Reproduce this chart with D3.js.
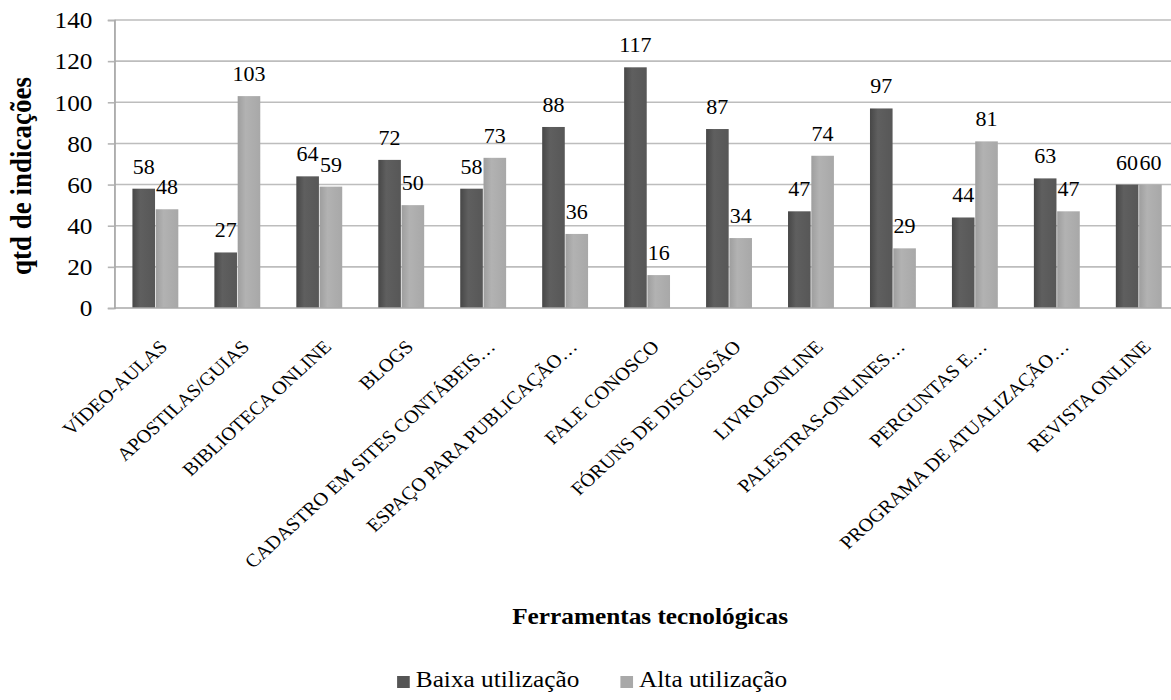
<!DOCTYPE html>
<html>
<head>
<meta charset="utf-8">
<script src="https://cdn.jsdelivr.net/npm/d3@7"></script>
<style>
  html, body { margin: 0; padding: 0; background: #fff; }
  svg { display: block; }
  text { font-family: "Liberation Serif", "Times New Roman", serif; fill: #000; }
</style>
</head>
<body>
<svg id="chart"></svg>
<script>
// Categories (x axis) and the two series of counts
const categories = [
  "VÍDEO-AULAS",
  "APOSTILAS/GUIAS",
  "BIBLIOTECA ONLINE",
  "BLOGS",
  "CADASTRO EM SITES CONTÁBEIS…",
  "ESPAÇO PARA PUBLICAÇÃO…",
  "FALE CONOSCO",
  "FÓRUNS DE DISCUSSÃO",
  "LIVRO-ONLINE",
  "PALESTRAS-ONLINES…",
  "PERGUNTAS E…",
  "PROGRAMA DE ATUALIZAÇÃO…",
  "REVISTA ONLINE"
];
const seriesNames = ["Baixa utilização", "Alta utilização"];
const baixa = [58, 27, 64, 72, 58, 88, 117, 87, 47, 97, 44, 63, 60];
const alta  = [48, 103, 59, 50, 73, 36, 16, 34, 74, 29, 81, 47, 60];
const yTicks = [0, 20, 40, 60, 80, 100, 120, 140];
const yTitle = "qtd de indicações";
const xTitle = "Ferramentas tecnológicas";

const W = 1171, H = 700;
const sx = 1.1;                 // horizontal stretch of the drawing
const VW = W / sx;              // drawing coordinates width

const svg = d3.select("#chart")
  .attr("width", W).attr("height", H)
  .attr("viewBox", `0 0 ${VW} ${H}`)
  .attr("preserveAspectRatio", "none");

const plotLeft = 104, step = 74.5;
const plotTop = 20, plotBottom = 308;

const x0 = d3.scaleBand()
  .domain(categories)
  .range([plotLeft, plotLeft + step * categories.length])
  .paddingInner(0.44)
  .paddingOuter(0.22);

const x1 = d3.scaleBand()
  .domain(seriesNames)
  .range([0, x0.bandwidth()])
  .paddingInner(0.03);

const y = d3.scaleLinear().domain([0, 140]).range([plotBottom, plotTop]);

const colors = { "Baixa utilização": "dark", "Alta utilização": "light" };

// bar gradients
const defs = svg.append("defs");
const grads = {
  dark:  ["#474747", "#5f5f5f", "#575757"],
  light: ["#9e9e9e", "#b2b2b2", "#a8a8a8"]
};
Object.entries(grads).forEach(([k, c]) => {
  const g = defs.append("linearGradient").attr("id", "g-" + k)
    .attr("x1", "0").attr("x2", "1").attr("y1", "0").attr("y2", "0");
  g.append("stop").attr("offset", "0").attr("stop-color", c[0]);
  g.append("stop").attr("offset", "0.35").attr("stop-color", c[1]);
  g.append("stop").attr("offset", "1").attr("stop-color", c[2]);
});

// gridlines
svg.append("g").selectAll("line.grid")
  .data(yTicks.filter(d => d > 0))
  .join("line")
  .attr("x1", plotLeft).attr("x2", VW)
  .attr("y1", d => y(d)).attr("y2", d => y(d))
  .attr("stroke", "#bdbdbd").attr("stroke-width", 1.6);

// y axis
const yAxis = d3.axisLeft(y).tickValues(yTicks).tickSize(6).tickPadding(0);
const gy = svg.append("g").attr("transform", `translate(${plotLeft},0)`).call(yAxis);
gy.select(".domain").attr("stroke", "#a8a8a8").attr("stroke-width", 1.6);
gy.selectAll(".tick line").attr("stroke", "#b5b5b5").attr("stroke-width", 1.6);
gy.selectAll(".tick text")
  .attr("x", -20).attr("dy", "0.34em")
  .style("font-size", "23px").style("fill", "#000");

// bars
const rows = categories.map((c, i) => ({ cat: c, values: [
  { key: seriesNames[0], v: baixa[i] },
  { key: seriesNames[1], v: alta[i] }
]}));

const groups = svg.append("g").selectAll("g.grp")
  .data(rows).join("g")
  .attr("transform", d => `translate(${x0(d.cat)},0)`);

groups.selectAll("rect")
  .data(d => d.values).join("rect")
  .attr("x", d => x1(d.key))
  .attr("width", x1.bandwidth())
  .attr("y", d => y(d.v))
  .attr("height", d => y(0) - y(d.v))
  .attr("fill", d => `url(#g-${colors[d.key]})`);

groups.selectAll("text.val")
  .data(d => d.values).join("text")
  .attr("class", "val")
  .attr("x", d => x1(d.key) + x1.bandwidth() / 2)
  .attr("y", d => y(d.v) - 15)
  .attr("text-anchor", "middle")
  .style("font-size", "20px")
  .text(d => d.v);

// x axis line
svg.append("line")
  .attr("x1", plotLeft).attr("x2", VW)
  .attr("y1", plotBottom).attr("y2", plotBottom)
  .attr("stroke", "#a8a8a8").attr("stroke-width", 1.6);

// category labels
svg.append("g").selectAll("text.cat")
  .data(categories).join("text")
  .attr("class", "cat")
  .attr("text-anchor", "end")
  .attr("transform", d => `translate(${x0(d) + x0.bandwidth() / 2 + 12},${plotBottom + 40}) rotate(-45)`)
  .style("font-size", "18.5px")
  .text(d => d);

// axis titles
svg.append("text")
  .attr("transform", `translate(28,176) rotate(-90)`)
  .attr("text-anchor", "middle")
  .style("font-size", "27px").style("font-weight", "bold")
  .text(yTitle);

svg.append("text")
  .attr("x", 591).attr("y", 624)
  .attr("text-anchor", "middle")
  .style("font-size", "23px").style("font-weight", "bold")
  .text(xTitle);

// legend
const legendX = [361, 564];
const lg = svg.append("g").selectAll("g.lg")
  .data(seriesNames).join("g")
  .attr("transform", (d, i) => `translate(${legendX[i]},0)`);
lg.append("rect")
  .attr("x", 0).attr("y", 676).attr("width", 11.5).attr("height", 12)
  .attr("fill", d => colors[d] === "dark" ? "#555555" : "#a9a9a9");
lg.append("text")
  .attr("x", 17).attr("y", 687)
  .style("font-size", "23px")
  .text(d => d);
</script>
</body>
</html>
